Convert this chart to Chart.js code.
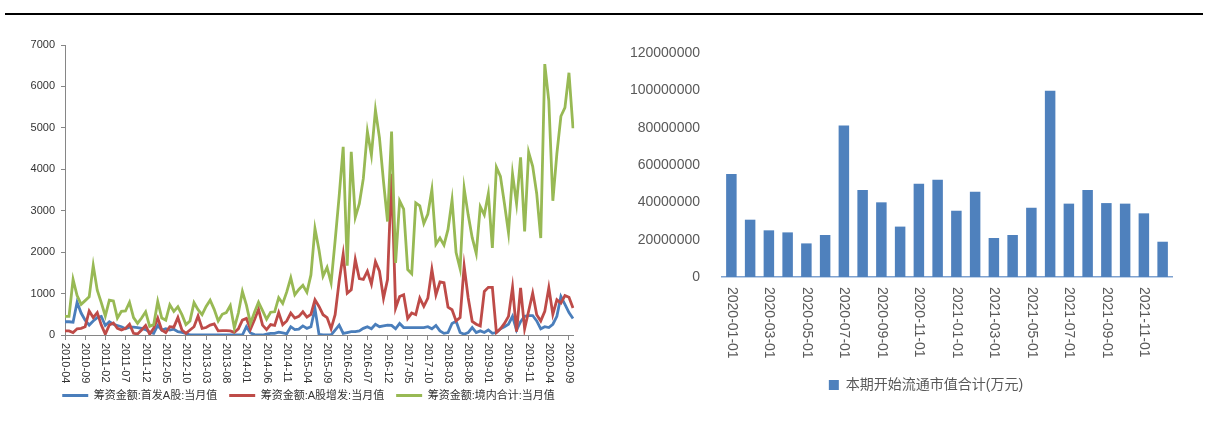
<!DOCTYPE html>
<html>
<head>
<meta charset="utf-8">
<script src="https://cdn.jsdelivr.net/npm/chart.js@4.4.1/dist/chart.umd.min.js"></script>
<style>
  body { margin: 0; background: #fff; width: 1208px; height: 424px; overflow: hidden; position: relative; }
  #topLine { position: absolute; left: 5px; top: 13px; width: 1198px; height: 2px; background: #000; }
  #leftChart { position: absolute; left: 0; top: 0; }
  #rightChart { position: absolute; left: 604px; top: 0; }
</style>
</head>
<body>
<div id="topLine"></div>
<canvas id="leftChart" width="600" height="424"></canvas>
<canvas id="rightChart" width="604" height="424"></canvas>
<script>
// ---- left chart data (亿元, monthly 2010-04 .. 2020-10)
const startYear = 2010, startMonth = 4, monthCount = 127;
const months = [];
for (let k = 0; k < monthCount; k++) {
  const m = startMonth - 1 + k;
  const y = startYear + Math.floor(m / 12);
  months.push(y + '-' + String(m % 12 + 1).padStart(2, '0'));
}

const seriesNames = ['筹资金额:首发A股:当月值', '筹资金额:A股增发:当月值', '筹资金额:境内合计:当月值'];
const seriesColors = ['#4A7EBB', '#BE4B48', '#98B954'];

const ipo = [
  320, 320, 310, 790, 530, 360, 240, 340, 420, 450,
  230, 320, 260, 230, 200, 150, 190, 190, 180, 160,
  130, 70, 40, 230, 120, 150, 120, 140, 80, 65,
  40, 0, 0, 0, 0, 0, 0, 0, 0, 0,
  0, 0, 0, 0, 0, 200, 50, 10, 0, 0,
  20, 40, 40, 70, 50, 30, 200, 130, 140, 220,
  160, 200, 640, 15, 0, 0, 0, 120, 240, 40,
  60, 80, 80, 100, 160, 200, 150, 260, 200, 220,
  240, 230, 150, 280, 180, 180, 180, 180, 180, 180,
  200, 150, 230, 100, 40, 60, 280, 330, 60, 20,
  60, 180, 60, 100, 60, 120, 40, 60, 150, 200,
  260, 450, 120, 320, 450, 470, 470, 340, 150, 200,
  180, 260, 450, 930, 740, 540, 400
];

const seo = [
  100, 100, 60, 150, 160, 200, 580, 420, 540, 240,
  20, 240, 290, 160, 120, 160, 260, 40, 25, 120,
  230, 20, 160, 410, 120, 60, 200, 190, 420, 120,
  40, 120, 200, 460, 160, 180, 240, 270, 100, 105,
  105, 100, 65, 150, 360, 400, 140, 370, 620, 240,
  130, 250, 230, 540, 250, 340, 530, 410, 450, 560,
  430, 500, 850, 690, 490, 420, 150, 490, 1300, 1950,
  1010, 1090, 1820, 1360, 1340, 1540, 1230, 1770, 1540, 890,
  1340, 3890, 650, 930, 970, 400, 530, 490, 890, 690,
  890, 1580, 970, 1280, 1260, 670, 610, 340, 420, 1660,
  900, 330, 260, 220, 1050, 1150, 1150, 60, 150, 280,
  450, 1150, 80, 1140, 150, 580, 1010, 490, 340, 570,
  1140, 500, 850, 770, 950, 910, 650
];

const total = [
  450, 450, 1340, 950, 740, 830, 920, 1680, 1080, 780,
  460, 840, 820, 410, 570, 580, 790, 420, 280, 410,
  560, 210, 250, 810, 410, 360, 730, 570, 680, 490,
  250, 340, 780, 610, 490, 690, 840, 620, 340, 500,
  540, 710, 170, 530, 1050, 720, 280, 550, 790, 590,
  380, 550, 560, 900, 760, 1040, 1380, 970, 1100, 1200,
  1030, 1450, 2570, 2050, 1420, 1630, 1260, 2280, 3350, 4540,
  1670, 4420, 2840, 3170, 3780, 4910, 4340, 5430, 4760, 3700,
  2740, 4910, 1740, 3240, 3040, 1580, 1480, 3190, 3120, 2690,
  2920, 3510, 2190, 2340, 2170, 2550, 3260, 1990, 1600, 3540,
  2900, 2350, 1970, 3100, 2900, 3410, 2100, 4050, 3830, 3170,
  2470, 3890, 3170, 4290, 2500, 4410, 4070, 3410, 2340, 6540,
  5650, 3240, 4380, 5280, 5490, 6330, 4990
];

const leftYTicks = [0, 1000, 2000, 3000, 4000, 5000, 6000, 7000];

// ---- right chart data (万元)
const barDates = [
  '2020-01-01', '2020-02-01', '2020-03-01', '2020-04-01', '2020-05-01', '2020-06-01',
  '2020-07-01', '2020-08-01', '2020-09-01', '2020-10-01', '2020-11-01', '2020-12-01',
  '2021-01-01', '2021-02-01', '2021-03-01', '2021-04-01', '2021-05-01', '2021-06-01',
  '2021-07-01', '2021-08-01', '2021-09-01', '2021-10-01', '2021-11-01', '2021-12-01'
];
const barName = '本期开始流通市值合计(万元)';
const barValues = [
  55200000, 30700000, 25000000, 23900000, 18000000, 22500000,
  81100000, 46600000, 40000000, 27000000, 50000000, 52100000,
  35500000, 45700000, 20900000, 22500000, 37100000, 99800000,
  39300000, 46600000, 39600000, 39300000, 34100000, 18900000
];
const rightYTicks = [0, 20000000, 40000000, 60000000, 80000000, 100000000, 120000000];

const FONT = '"Liberation Sans", "Noto Sans CJK SC", sans-serif';

// draws x labels rotated 90deg clockwise (reading top to bottom)
const verticalLabels = {
  id: 'verticalLabels',
  afterDraw(chart, args, opts) {
    const xs = chart.scales.x;
    const ctx = chart.ctx;
    ctx.save();
    ctx.font = opts.size + 'px ' + FONT;
    ctx.fillStyle = opts.color;
    ctx.textAlign = 'left';
    ctx.textBaseline = 'middle';
    chart.data.labels.forEach((lab, i) => {
      if (i % opts.every !== 0) return;
      const x = xs.getPixelForValue(i);
      ctx.save();
      ctx.translate(x, xs.top + opts.offset);
      ctx.rotate(Math.PI / 2);
      ctx.fillText(lab, 0, 0);
      ctx.restore();
    });
    ctx.restore();
  }
};

// nudge the legend sideways (reference legends are not centred on the canvas)
const legendShift = {
  id: 'legendShift',
  afterLayout(chart, args, opts) {
    if (chart.legend && opts.dx) {
      chart.legend.left += opts.dx;
      chart.legend.right += opts.dx;
    }
  }
};

const axisGray = '#868686';

const lineSet = (i, data, order) => ({
  label: seriesNames[i],
  data: data,
  borderColor: seriesColors[i],
  backgroundColor: seriesColors[i],
  pointBorderColor: seriesColors[i],
  pointBackgroundColor: seriesColors[i],
  pointBorderWidth: 3,
  order: order
});

new Chart(document.getElementById('leftChart'), {
  type: 'line',
  plugins: [verticalLabels, legendShift],
  data: {
    labels: months,
    datasets: [lineSet(0, ipo, 3), lineSet(1, seo, 2), lineSet(2, total, 1)]
  },
  options: {
    responsive: false,
    animation: false,
    elements: { point: { radius: 0 }, line: { borderWidth: 2.8, tension: 0 } },
    layout: { padding: { left: 0, right: 27, top: 45, bottom: 13 } },
    plugins: {
      tooltip: { enabled: false },
      legend: {
        position: 'bottom',
        labels: {
          usePointStyle: true,
          pointStyle: 'line',
          pointStyleWidth: 26,
          padding: 12,
          color: '#333',
          font: { family: FONT, size: 11 },
          sort: (a, b) => a.datasetIndex - b.datasetIndex
        }
      },
      legendShift: { dx: 22 },
      verticalLabels: { every: 5, offset: 8, size: 11, color: '#333' }
    },
    scales: {
      x: {
        ticks: { display: false },
        grid: {
          drawOnChartArea: false,
          tickLength: 5,
          color: (c) => (c.index % 5 === 0 ? axisGray : 'rgba(0,0,0,0)')
        },
        border: { color: axisGray, width: 1 },
        afterFit: (s) => { s.height = 43; }
      },
      y: {
        min: 0,
        max: 7000,
        afterBuildTicks: (s) => { s.ticks = leftYTicks.map(v => ({ value: v })); },
        ticks: { color: '#333', font: { family: FONT, size: 11 }, padding: 6,
          callback: (v) => String(v) },
        grid: { drawOnChartArea: false, tickLength: 4, color: axisGray },
        border: { color: axisGray, width: 1 },
        afterFit: (s) => { s.width = 65; }
      }
    }
  }
});

new Chart(document.getElementById('rightChart'), {
  type: 'bar',
  plugins: [verticalLabels, legendShift],
  data: {
    labels: barDates,
    datasets: [
      { label: barName, data: barValues, backgroundColor: '#4F81BD', borderWidth: 0,
        categoryPercentage: 1, barPercentage: 0.56 }
    ]
  },
  options: {
    responsive: false,
    animation: false,
    layout: { padding: { left: 0, right: 36, top: 53, bottom: 22 } },
    plugins: {
      tooltip: { enabled: false },
      legend: {
        position: 'bottom',
        labels: {
          boxWidth: 10,
          boxHeight: 10,
          padding: 10,
          color: '#595959',
          font: { family: FONT, size: 14 }
        }
      },
      legendShift: { dx: 38 },
      verticalLabels: { every: 2, offset: 10, size: 14, color: '#595959' }
    },
    scales: {
      x: {
        ticks: { display: false },
        grid: { drawOnChartArea: false, drawTicks: false },
        border: { color: '#7FA2D0', width: 1.5 },
        afterFit: (s) => { s.height = 91; }
      },
      y: {
        min: 0,
        max: 120000000,
        afterBuildTicks: (s) => { s.ticks = rightYTicks.map(v => ({ value: v })); },
        ticks: { color: '#595959', font: { family: FONT, size: 14 }, padding: 14,
          callback: (v) => String(v) },
        grid: { display: false },
        border: { display: false },
        afterFit: (s) => { s.width = 118; }
      }
    }
  }
});
</script>
</body>
</html>
